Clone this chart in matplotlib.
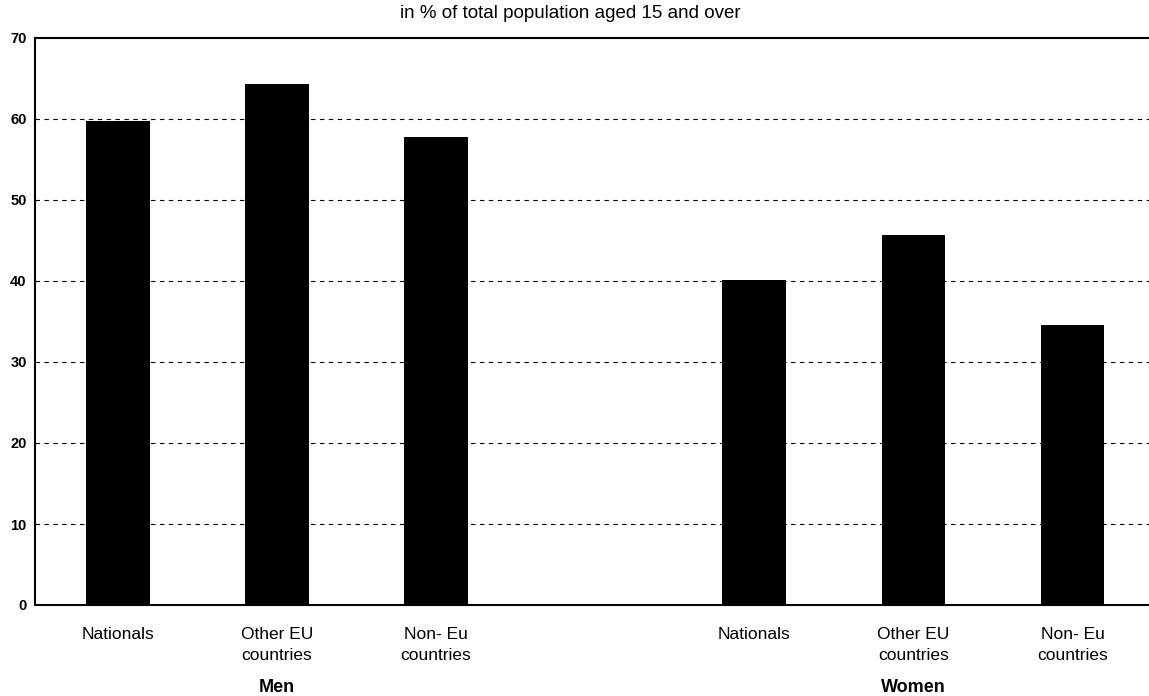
import matplotlib
matplotlib.use("Agg")
import matplotlib.pyplot as plt

plt.rcParams['font.family'] = ['Liberation Sans', 'DejaVu Sans']

groups = ["Men", "Women"]
categories = ["Nationals", "Other EU\ncountries", "Non- Eu\ncountries"]
men_values = [59.8, 64.3, 57.8]
women_values = [40.1, 45.7, 34.6]
y_ticks = [0, 10, 20, 30, 40, 50, 60, 70]
title = "in % of total population aged 15 and over"

fig = plt.figure(figsize=(11.49, 6.96), dpi=100)
ax = fig.add_axes([35/1149, 1-605/696, 1-35/1149, (605-38)/696])

men_pos = [0, 1, 2]
women_pos = [4, 5, 6]
ax.bar(men_pos, men_values, width=0.40, color='black', zorder=3)
ax.bar(women_pos, women_values, width=0.40, color='black', zorder=3)

ax.set_xlim(-0.52, 6.48)
ax.set_ylim(0, 70)
ax.set_yticks(y_ticks)
ax.set_yticklabels([str(v) for v in y_ticks], fontsize=10.5, fontweight='bold')
ax.set_xticks(men_pos + women_pos)
ax.set_xticklabels(categories + categories, fontsize=12.5, linespacing=1.45)
ax.tick_params(axis='both', length=0)
ax.tick_params(axis='x', pad=16)
ax.tick_params(axis='y', pad=6)

for v in y_ticks[1:-1]:
    ax.axhline(v, color='black', linestyle=(0, (4, 4)), linewidth=0.8, zorder=1)

for s in ['left', 'bottom', 'top']:
    ax.spines[s].set_linewidth(1.5)
ax.spines['right'].set_visible(False)

ax.text(1, -0.145, groups[0], transform=ax.get_xaxis_transform(), ha='center', va='center',
        fontsize=13, fontweight='bold')
ax.text(5, -0.145, groups[1], transform=ax.get_xaxis_transform(), ha='center', va='center',
        fontsize=13, fontweight='bold')

fig.text(570/1149, 1-13/696, title, ha='center', va='center', fontsize=13.5)

fig.savefig("out.png", dpi=100)
